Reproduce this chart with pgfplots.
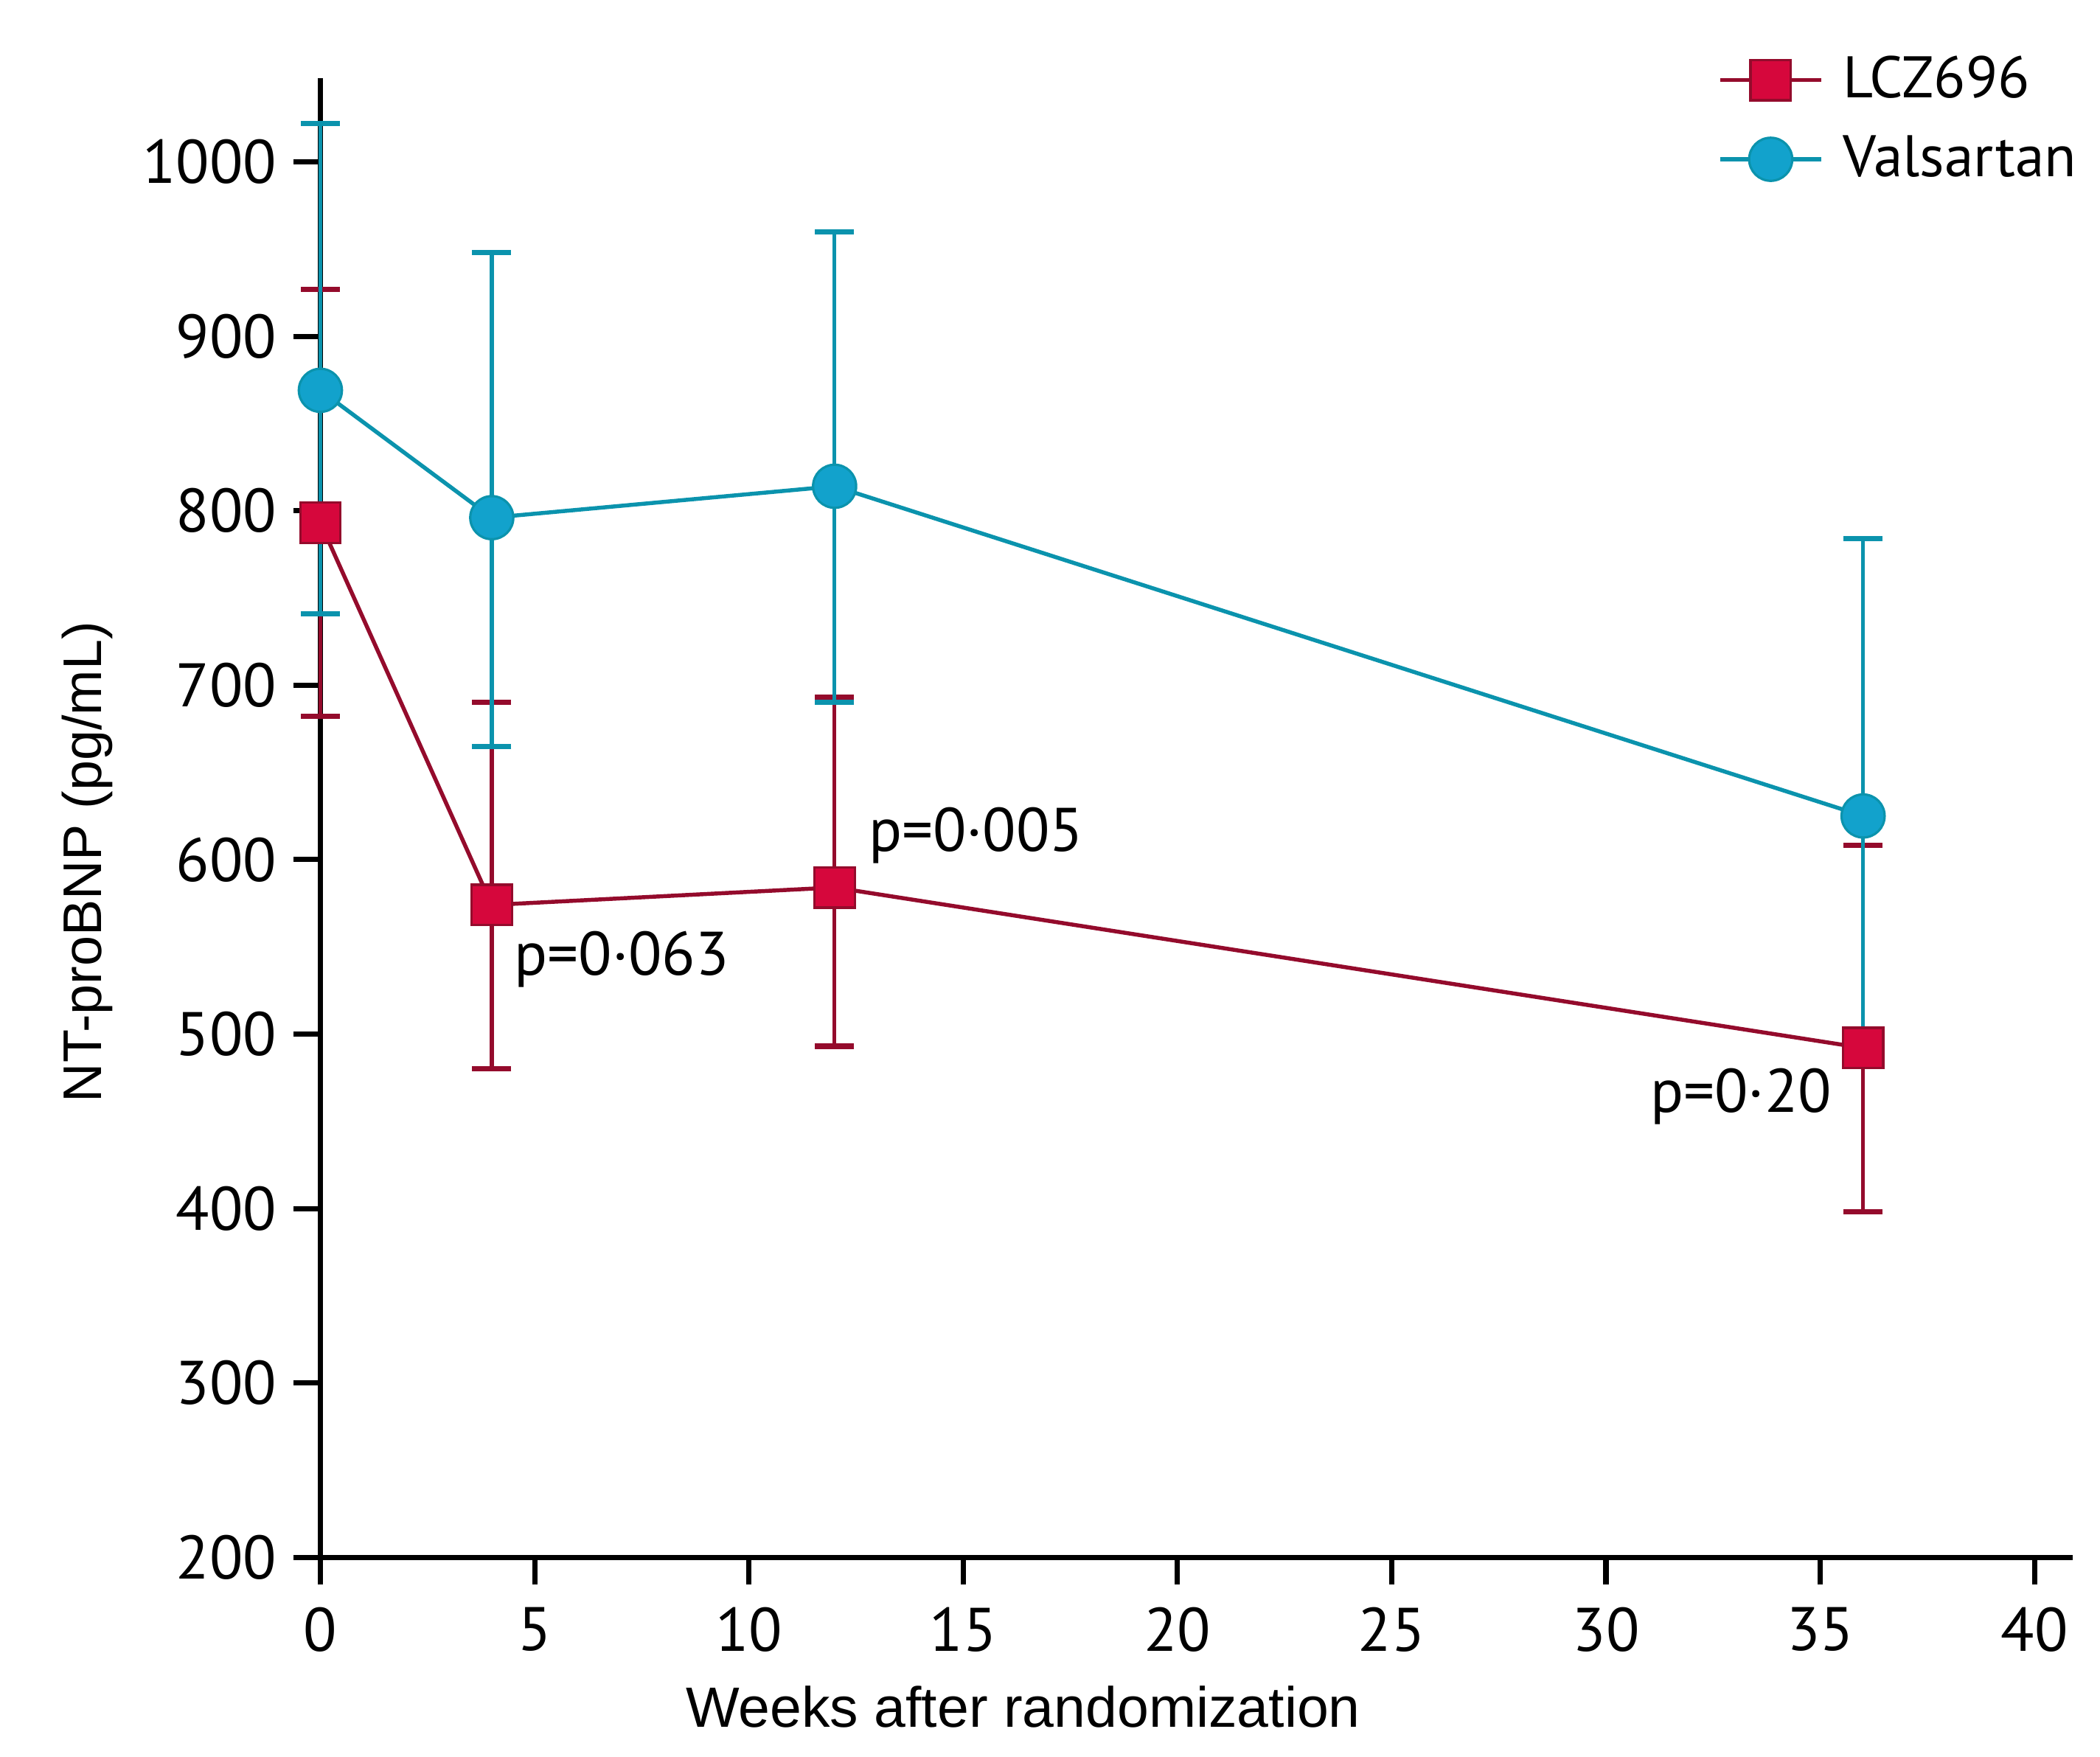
\documentclass[border=0pt]{standalone}
\usepackage{fontspec}
\setmainfont{PT Sans}
\newfontfamily\arial{Liberation Sans}
\usepackage{pgfplots}
\pgfplotsset{compat=1.18}

\definecolor{lczfill}{HTML}{D6073C}
\definecolor{lczline}{HTML}{940B2C}
\definecolor{valfill}{HTML}{12A2CC}
\definecolor{valline}{HTML}{0B93AD}

\begin{document}
\begin{tikzpicture}
\begin{axis}[
	scale only axis,
	width=130.2mm, height=109.9mm,
	xmin=0, xmax=40.9, ymin=200, ymax=1048,
	axis lines=left,
	axis line style={line width=1.1pt, -},
	xtick={0,5,...,40}, ytick={200,300,...,1000},
	tick style={line width=1.1pt, black},
	tick align=outside, major tick length=2mm,
	ticklabel style={font=\fontsize{13}{14}\selectfont},
	xticklabel style={yshift=-0.5mm},
	/pgf/number format/assume math mode=true,
	/pgf/number format/set thousands separator={},
	xlabel={Weeks after randomization},
	xlabel style={font=\arial\fontsize{12}{12}\selectfont, at={(axis description cs:0.401,-0.101)}, anchor=center},
	ylabel={NT-proBNP (pg/mL)},
	ylabel style={font=\arial\fontsize{11.5}{12}\selectfont, at={(axis description cs:-0.133,0.47)}, anchor=center},
	clip=false,
	legend style={at={(axis description cs:0.797,0.972)}, anchor=west, draw=none, fill=none,
		inner sep=0pt, font=\fontsize{12.4}{14}\selectfont, row sep=2.5pt,
		nodes={inner xsep=0pt},
		/tikz/every odd column/.append style={column sep=1.5mm}},
	legend cell align=left,
	legend image code/.code={\draw[#1, mark repeat=2, mark phase=2] plot coordinates {(0mm,0mm) (3.75mm,0mm) (7.5mm,0mm)};},
]
% LCZ696
\addplot[lczline, line width=0.85pt, mark=square*, mark size=1.5mm,
	mark options={fill=lczfill, draw=lczline, line width=0.5pt},
	error bars/.cd, y dir=both, y explicit, error mark=-,
	error bar style={lczline, line width=0.8pt},
	error mark options={rotate=90, mark size=1.45mm, line width=1.1pt, lczline}]
	coordinates {
	(0,793) += (0,134) -= (0,111)
	(4,574) += (0,116) -= (0,94)
	(12,584) += (0,109) -= (0,91)
	(36,492) += (0,116) -= (0,94)
	};
\addlegendentry{LCZ696}
% Valsartan
\addplot[valline, line width=0.85pt, mark=*, mark size=1.6mm,
	mark options={fill=valfill, draw=valline, line width=0.5pt},
	error bars/.cd, y dir=both, y explicit, error mark=-,
	error bar style={valline, line width=0.8pt},
	error mark options={rotate=90, mark size=1.45mm, line width=1.1pt, valline}]
	coordinates {
	(0,869) += (0,153) -= (0,128)
	(4,796) += (0,152) -= (0,131)
	(12,814) += (0,146) -= (0,124)
	(36,625) += (0,159) -= (0,126)
	};
\addlegendentry{Valsartan}

\node[font=\fontsize{13}{14}\selectfont] at (axis cs:7.03,543) {p=0·063};
\node[font=\fontsize{13}{14}\selectfont] at (axis cs:15.3,614) {p=0·005};
\node[font=\fontsize{13}{14}\selectfont] at (axis cs:33.15,464) {p=0·20};
\end{axis}
\path ([shift={(-23.8mm,-14.8mm)}]current axis.south west) rectangle ([shift={(2mm,5.8mm)}]current axis.north east);
\end{tikzpicture}
\end{document}
